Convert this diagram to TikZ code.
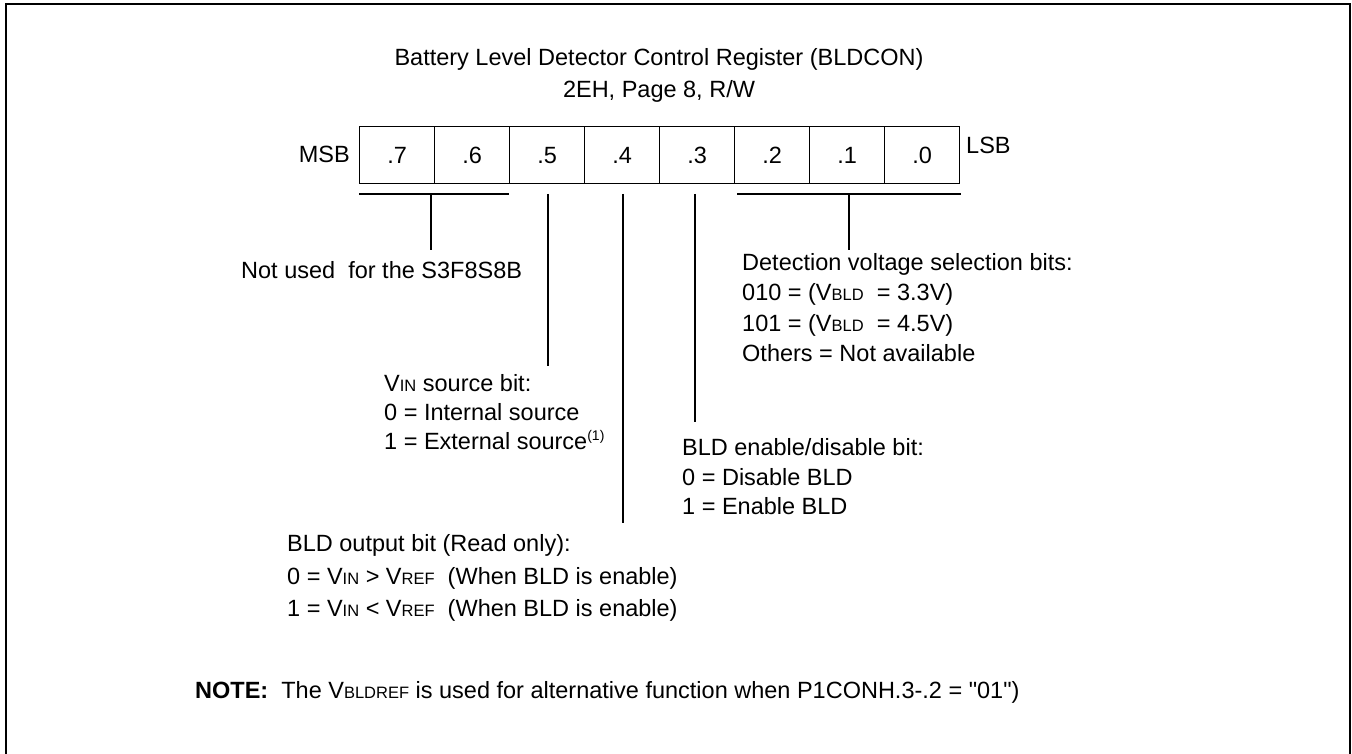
\documentclass[tikz,border=0pt]{standalone}
\usepackage{fontspec}
\setmainfont{Liberation Sans}[Ligatures=TeXOff]
\usepackage{graphicx}
\newcommand\smc[1]{{\fontsize{16.5}{17}\selectfont #1}}
\newcommand\supr[1]{\raisebox{9pt}{\fontsize{14}{14}\selectfont #1}}
\begin{document}
\begin{tikzpicture}[x=1pt,y=-1pt,
  txt/.style={anchor=base west,inner sep=0pt,font=\fontsize{23.5}{28}\selectfont},
  ttl/.style={anchor=base,inner sep=0pt,font=\fontsize{23.5}{28}\selectfont},
  cell/.style={draw,line width=1.3pt,minimum width=75pt,minimum height=57pt,inner sep=0pt,anchor=north west,font=\fontsize{23.5}{28}\selectfont},
  ln/.style={line width=1.3pt}]
\useasboundingbox (0,0) rectangle (1352,754);
\draw[line width=1.6pt] (6,780) -- (6,4) -- (1350,4) -- (1350,780);
\node[ttl] (t1) at (659,66) {Battery Level Detector Control Register (BLDCON)};
\node[ttl] (t2) at (659,98) {2EH, Page 8, R/W};
\foreach \b [count=\i from 0] in {7,6,5,4,3,2,1,0}
  \node[cell] (c\b) at (359+75*\i,126) {.\b};
\node[txt,anchor=base east] (msb) at (350,163) {MSB};
\node[txt] (lsb) at (966,154) {LSB};
% brackets and bit lines
\coordinate (bl1) at (359,194); \coordinate (bl2) at (509,194);
\coordinate (blm) at (431,194); \coordinate (ble) at (431,250);
\coordinate (br1) at (737,194); \coordinate (br2) at (961,194);
\coordinate (brm) at (849,194); \coordinate (bre) at (849,250);
\coordinate (s5) at (548,194); \coordinate (e5) at (548,366);
\coordinate (s4) at (623,194); \coordinate (e4) at (623,523);
\coordinate (s3) at (695,194); \coordinate (e3) at (695,422);
\draw[ln] (bl1) -- (bl2); \draw[ln] (blm) -- (ble);
\draw[ln] (br1) -- (br2); \draw[ln] (brm) -- (bre);
\draw[ln] (s5) -- (e5);
\draw[ln] (s4) -- (e4);
\draw[ln] (s3) -- (e3);
% texts
\node[txt] (nu) at (241,278) {Not used\ \ for the S3F8S8B};
\node[txt] (d1) at (742,270) {Detection voltage selection bits:};
\node[txt] (d2) at (742,300.5) {010 = (V\smc{BLD}\ \ = 3.3V)};
\node[txt] (d3) at (742,331) {101 = (V\smc{BLD}\ \ = 4.5V)};
\node[txt] (d4) at (742,361.5) {Others = Not available};
\node[txt] (v1) at (384,391) {V\smc{IN} source bit:};
\node[txt] (v2) at (384,420) {0 = Internal source};
\node[txt] (v3) at (384,449) {1 = External source\supr{(1)}};
\node[txt] (b1) at (682,455) {BLD enable/disable bit:};
\node[txt] (b2) at (682,485) {0 = Disable BLD};
\node[txt] (b3) at (682,514) {1 = Enable BLD};
\node[txt] (o1) at (287,551) {BLD output bit (Read only):};
\node[txt] (o2) at (287,584) {0 = V\smc{IN} > V\smc{REF}\ \ (When BLD is enable)};
\node[txt] (o3) at (287,616) {1 = V\smc{IN} < V\smc{REF}\ \ (When BLD is enable)};
\node[txt] (nt) at (195,698) {\textbf{NOTE:}\ \ The V\smc{BLDREF} is used for alternative function when P1CONH.3-.2 = "01")};
\end{tikzpicture}
\end{document}
